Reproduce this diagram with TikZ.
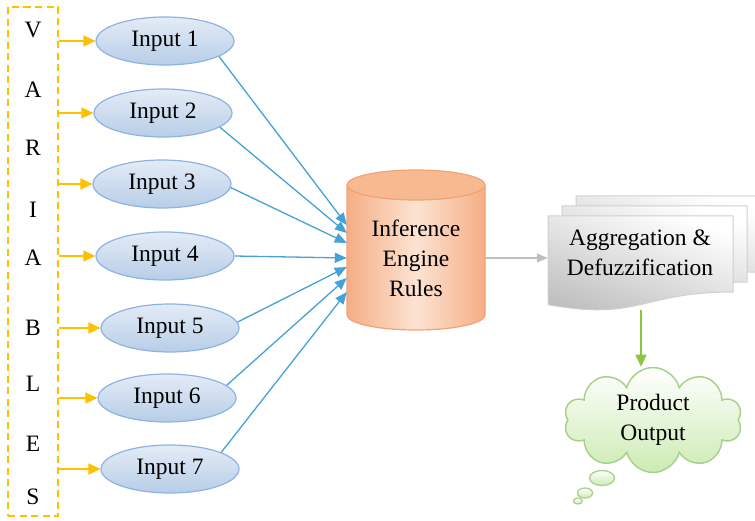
\documentclass[tikz,border=0pt]{standalone}
\usepackage{fontspec}
\setmainfont{Liberation Serif}
\usetikzlibrary{shapes.geometric,shapes.symbols,arrows.meta,calc}

\definecolor{gold}{HTML}{FFC000}
\definecolor{elltop}{HTML}{E4ECF6}
\definecolor{ellbot}{HTML}{B7CDE7}
\definecolor{ellline}{HTML}{8DB3E2}
\definecolor{skyblue}{HTML}{45A2D8}
\definecolor{cylside}{HTML}{F5AE84}
\definecolor{cylmid}{HTML}{FCE3D3}
\definecolor{cyltop}{HTML}{F7B990}
\definecolor{cylline}{HTML}{F2A274}
\definecolor{greyarrow}{HTML}{BFBFBF}
\definecolor{pageline}{HTML}{D0D0D0}
\definecolor{pagebot}{HTML}{BEBEBE}
\definecolor{greenarrow}{HTML}{8CC63F}
\definecolor{cloudline}{HTML}{A9D18E}
\definecolor{cloudfill}{HTML}{CDEBB4}

\tikzset{
  bigtext/.style={font=\fontsize{23.5}{30}\selectfont},
  inbox/.style={ellipse, draw=ellline, line width=1.2pt, top color=elltop,
    bottom color=ellbot, minimum width=138pt, minimum height=48pt, inner sep=0pt},
  oarr/.style={draw=gold, line width=1.4pt, -{Triangle[length=12pt,width=11pt]}},
  barr/.style={draw=skyblue, line width=1.3pt, -{Triangle[length=12pt,width=10pt]}},
  garr/.style={draw=greyarrow, line width=1.3pt, -{Triangle[length=11pt,width=9pt]}},
  grarr/.style={draw=greenarrow, line width=1.5pt, -{Triangle[length=12pt,width=11pt]}},
  pagestyle/.style={draw=pageline, line width=1pt, top color=white, bottom color=pagebot,
    shading angle=-20},
  bubble/.style={ellipse, draw=cloudline, line width=1.3pt, top color=white,
    bottom color=cloudfill, inner sep=0pt},
}

% one sheet of the document stack, moved by #1
\newcommand\docsheet[1]{%
  \draw[pagestyle, shift={#1}] (548,304) -- (733,304) -- (733,228)
    .. controls (640.5,228) and (640.5,198.7) .. (548,215.3) -- cycle;}

\begin{document}
\begin{tikzpicture}[x=1pt, y=1pt, bigtext]
\useasboundingbox (0,0) rectangle (755,520);

% dashed column of letters
\node[draw=gold, dash pattern=on 7pt off 4.5pt, line width=1.4pt,
  minimum width=50pt, minimum height=509pt, inner sep=0pt] (vbox) at (33,258.5) {};
\node (l1) at (33,490) {V};
\node (l2) at (33,430) {A};
\node (l3) at (33,372) {R};
\node (l4) at (33,310) {I};
\node (l5) at (33,262) {A};
\node (l6) at (33,192) {B};
\node (l7) at (33,136) {L};
\node (l8) at (33,76) {E};
\node (l9) at (33,23) {S};

% inputs
\node[inbox] (i1) at (165,479) {Input 1};
\node[inbox] (i2) at (163,407) {Input 2};
\node[inbox] (i3) at (162,336) {Input 3};
\node[inbox] (i4) at (165,264) {Input 4};
\node[inbox] (i5) at (170,192) {Input 5};
\node[inbox] (i6) at (167,122) {Input 6};
\node[inbox] (i7) at (170,51) {Input 7};

\foreach \n in {1,...,7}
  \draw[oarr] (vbox.east |- i\n.west) -- (i\n.west);

% inference engine cylinder
\node[minimum width=138pt, minimum height=160pt, inner sep=0pt] (eng) at (416,270) {};
\shade[left color=cylside, right color=cylside, middle color=cylmid]
  (347,335) -- (347,205) arc[start angle=180, end angle=360, x radius=69, y radius=15]
  -- (485,335) arc[start angle=0, end angle=180, x radius=69, y radius=15] -- cycle;
\draw[cylline, line width=1.2pt]
  (347,335) -- (347,205) arc[start angle=180, end angle=360, x radius=69, y radius=15]
  -- (485,335);
\draw[cylline, line width=1.2pt, fill=cyltop] (416,335) ellipse[x radius=69, y radius=15];
\node[align=center] (engtext) at (416,262) {Inference\\Engine\\Rules};

\draw[barr] (i1.-16) -- ($(eng.west)+(0,25)$);
\draw[barr] (i2.-14) -- ($(eng.west)+(0,17)$);
\draw[barr] (i3.-3)  -- ($(eng.west)+(0,7)$);
\draw[barr] (i4.east) -- ($(eng.west)+(0,-8)$);
\draw[barr] (i5.5)   -- ($(eng.west)+(0,-17)$);
\draw[barr] (i6.12)  -- ($(eng.west)+(0,-28)$);
\draw[barr] (i7.18)  -- ($(eng.west)+(0,-42)$);

% stacked document sheets
\docsheet{(28,20)}
\docsheet{(14,10)}
\docsheet{(0,0)}
\node[minimum width=185pt, minimum height=86pt, inner sep=0pt] (doc) at (640.5,262) {};
\node[align=center] (aggtext) at (640,267) {Aggregation \&\\Defuzzification};
\draw[garr] (eng.east |- doc.west) -- (doc.west);

% output cloud
\node[cloud, cloud puffs=10, aspect=1.7, draw=cloudline, line width=1.5pt,
  top color=white, bottom color=cloudfill, minimum width=178pt, minimum height=105pt,
  inner sep=0pt, align=center] (out) at (653,100) {Product\\Output};
\node[bubble, minimum width=25pt, minimum height=15pt] (b1) at (602,42) {};
\node[bubble, minimum width=15pt, minimum height=10pt] (b2) at (585,27) {};
\node[bubble, minimum width=9pt, minimum height=6pt] (b3) at (578,19) {};

\coordinate (docbottom) at (641,210);
\draw[grarr] (docbottom) -- (docbottom |- out.north);
\end{tikzpicture}
\end{document}
